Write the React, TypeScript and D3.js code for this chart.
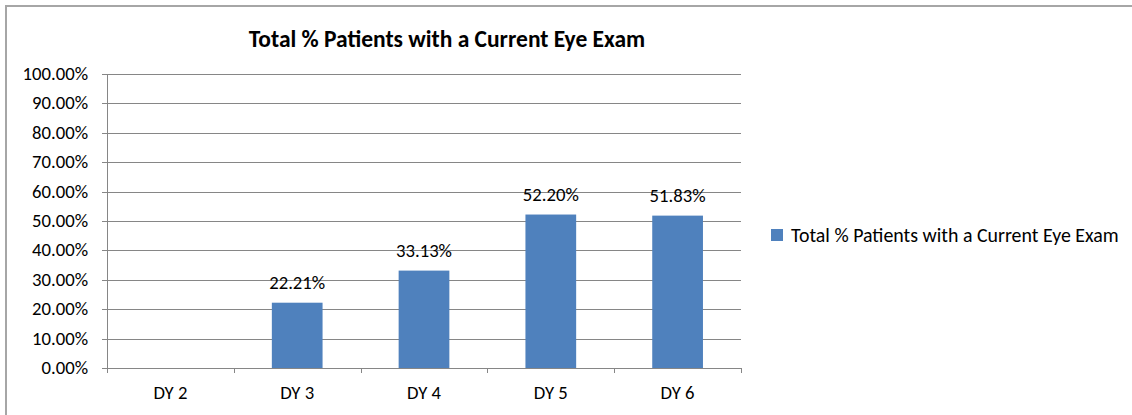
import React from 'react';
import * as d3 from 'd3';

const categories = ['DY 2', 'DY 3', 'DY 4', 'DY 5', 'DY 6'];
const values: (number | null)[] = [null, 22.21, 33.13, 52.2, 51.83];
const yTicks = [0, 10, 20, 30, 40, 50, 60, 70, 80, 90, 100];
const seriesName = 'Total % Patients with a Current Eye Exam';
const title = 'Total % Patients with a Current Eye Exam';

const FONT = "Carlito, Calibri, 'Open Sans', 'Noto Sans', sans-serif";

const App: React.FC = () => {
  const width = 1132;
  const height = 415;
  const left = 107;
  const right = 741;
  const top = 74;
  const bottom = 368;

  const band = d3.scaleBand<string>().domain(categories).range([left, right]);
  const y = d3.scaleLinear().domain([0, 100]).range([bottom, top]);
  const fmt = (v: number) => v.toFixed(2) + '%';
  const barW = band.bandwidth() * 0.4;

  return (
    <div>
      <style>{'body{margin:0}'}</style>
      <svg width={width} height={height} style={{ display: 'block', fontFamily: FONT }}>
        {/* chart frame, cut off at the right and bottom edges like the source */}
        <rect x={6} y={6} width={1140} height={430} fill="#fff" stroke="#a6a6a6" strokeWidth={2} />
        <text x={447} y={47} textAnchor="middle" fontWeight="bold" fontSize={23.5} fill="#000">{title}</text>
        {yTicks.map(t => (
          <g key={t}>
            <line x1={left - 5} x2={right} y1={Math.round(y(t)) + 0.5} y2={Math.round(y(t)) + 0.5} stroke="#868686" />
            <text x={88} y={y(t) + 6} textAnchor="end" fontSize={18.7} fill="#000">{fmt(t)}</text>
          </g>
        ))}
        <line x1={left + 0.5} x2={left + 0.5} y1={top} y2={bottom + 5} stroke="#868686" />
        {categories.map((c, i) => {
          const cx = band(c)! + band.bandwidth() / 2;
          const v = values[i];
          return (
            <g key={c}>
              <line x1={Math.round(band(c)! + band.bandwidth()) + 0.5} x2={Math.round(band(c)! + band.bandwidth()) + 0.5} y1={bottom} y2={bottom + 5} stroke="#868686" />
              <text x={cx} y={399} textAnchor="middle" fontSize={18.7} fill="#000">{c}</text>
              {v != null && (
                <g>
                  <rect x={cx - barW / 2} width={barW} y={y(v)} height={bottom - y(v)} fill="#4F81BD" />
                  <text x={cx} y={y(v) - 14} textAnchor="middle" fontSize={18.7} fill="#000">{fmt(v)}</text>
                </g>
              )}
            </g>
          );
        })}
        <rect x={771} y={229} width={12} height={12} fill="#4F81BD" />
        <text x={791} y={241.5} fontSize={19.9} fill="#000">{seriesName}</text>
      </svg>
    </div>
  );
};

export default App;
